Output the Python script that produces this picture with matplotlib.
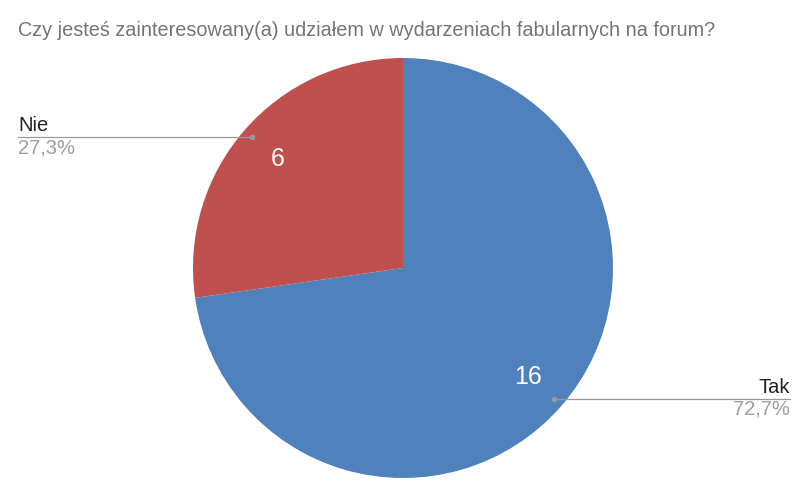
import numpy as np
import matplotlib.pyplot as plt

plt.rcParams['font.family'] = ['Liberation Sans', 'DejaVu Sans']

labels = ["Tak", "Nie"]
counts = [16, 6]
colors = ["#4f81bd", "#c0504d"]
title = "Czy jesteś zainteresowany(a) udziałem w wydarzeniach fabularnych na forum?"

W, H = 802, 483
fig = plt.figure(figsize=(W / 100, H / 100), dpi=100)

# pie: center (403, 268) px, radius 210 px
cx, cy, r = 403, 268, 210
ax = fig.add_axes([(cx - r) / W, (H - cy - r) / H, 2 * r / W, 2 * r / H])
total = sum(counts)
wedges, _, autotexts = ax.pie(counts, colors=colors, startangle=90, counterclock=False,
                              autopct=lambda p: "%d" % round(p * total / 100),
                              pctdistance=0.79, radius=1,
                              textprops=dict(color="white", fontsize=18))
ax.set_xlim(-1, 1)
ax.set_ylim(-1, 1)
ax.set_aspect("auto")
ax.axis("off")

fig.text(18 / W, 1 - 31 / H, title, fontsize=14.3, color="#757575", va="center", ha="left")

# leader lines and outside labels
for w, lab, n in zip(wedges, labels, counts):
    ang = np.deg2rad((w.theta1 + w.theta2) / 2)
    dx, dy = 0.95 * np.cos(ang), 0.95 * np.sin(ang)
    px = cx + dx * r
    py = cy - dy * r
    pct = ("%.1f%%" % (100 * n / total)).replace(".", ",")
    if dx < 0:
        x0, x1, ha, tx = 18, px, "left", 18
    else:
        x0, x1, ha, tx = px, 790, "right", 790
    fig.add_artist(plt.Line2D([x0 / W, x1 / W], [1 - py / H, 1 - py / H],
                              color="#9a9a9a", lw=0.9, transform=fig.transFigure))
    fig.add_artist(plt.Line2D([px / W], [1 - py / H], marker="o", ms=3,
                              color="#9a9a9a", transform=fig.transFigure))
    fig.text(tx / W, 1 - (py - 2) / H, lab, fontsize=14.5, color="#222222", ha=ha, va="bottom")
    fig.text(tx / W, 1 - (py + 1) / H, pct, fontsize=14.5, color="#9e9e9e", ha=ha, va="top")

fig.savefig("out.png", dpi=100, facecolor="white")
